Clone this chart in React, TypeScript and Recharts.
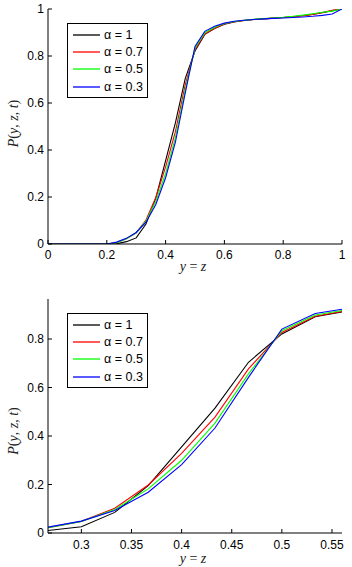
import React from 'react';
import { LineChart, Line, XAxis, YAxis, Legend } from 'recharts';

// y = z grid (steps of 1/30)
const xGrid = [0, 0.0333, 0.0667, 0.1, 0.1333, 0.1667, 0.2, 0.2333, 0.2667, 0.3, 0.3333, 0.3667, 0.4, 0.4333, 0.4667, 0.5,
  0.5333, 0.5667, 0.6, 0.6333, 0.6667, 0.7, 0.7333, 0.7667, 0.8, 0.8333, 0.8667, 0.9, 0.9333, 0.9667, 1];

const alpha1 = [0, 0, 0, 0, 0, 0, 0, 0.001, 0.01, 0.026, 0.085, 0.195, 0.355, 0.515, 0.704, 0.821,
  0.892, 0.917, 0.935, 0.945, 0.951, 0.955, 0.958, 0.961, 0.964, 0.967, 0.971, 0.977, 0.984, 0.993, 1];
const alpha07 = [0, 0, 0, 0, 0, 0, 0, 0.005, 0.022, 0.048, 0.102, 0.198, 0.328, 0.478, 0.677, 0.827,
  0.894, 0.918, 0.936, 0.946, 0.951, 0.955, 0.958, 0.961, 0.964, 0.967, 0.971, 0.977, 0.985, 0.995, 1];
const alpha05 = [0, 0, 0, 0, 0, 0, 0, 0.006, 0.022, 0.048, 0.097, 0.182, 0.3, 0.453, 0.656, 0.834,
  0.899, 0.922, 0.938, 0.947, 0.952, 0.956, 0.959, 0.962, 0.965, 0.969, 0.974, 0.98, 0.986, 0.991, 1];
const alpha03 = [0, 0, 0, 0, 0, 0, 0, 0.008, 0.024, 0.049, 0.093, 0.168, 0.282, 0.433, 0.642, 0.841,
  0.905, 0.927, 0.94, 0.948, 0.952, 0.955, 0.958, 0.96, 0.962, 0.964, 0.966, 0.969, 0.973, 0.979, 1];

const seriesNames = ['α = 1', 'α = 0.7', 'α = 0.5', 'α = 0.3'];
const seriesKeys = ['a1', 'a07', 'a05', 'a03'];
const seriesColors = ['#000000', '#ff0000', '#00ff00', '#0000ff'];

const topXTicks = [0, 0.2, 0.4, 0.6, 0.8, 1];
const topYTicks = [0, 0.2, 0.4, 0.6, 0.8, 1];
const zoomXTicks = [0.3, 0.35, 0.4, 0.45, 0.5, 0.55];
const zoomYTicks = [0, 0.2, 0.4, 0.6, 0.8];

const rows = xGrid.map((x, i) => ({
  x,
  a1: alpha1[i],
  a07: alpha07[i],
  a05: alpha05[i],
  a03: alpha03[i],
}));

const fmt = (v: number) => String(v);
const noTick = () => <g />;

// legend keeps the plotting order (recharts sorts its payload by name)
const LegendBox = () => (
  <div style={{ border: '1px solid #000', background: '#fff', width: 79, height: 71, paddingTop: 2, boxSizing: 'content-box' }}>
    {seriesNames.map((name, i) => (
      <div key={name} style={{ display: 'flex', alignItems: 'center', height: 17.3 }}>
        <svg width={36} height={6} style={{ display: 'block' }}>
          <line x1={5} y1={3} x2={32} y2={3} stroke={seriesColors[i]} strokeWidth={1.3} />
        </svg>
        <span style={{ fontSize: 12.5, color: '#000', lineHeight: '12px' }}>{name}</span>
      </div>
    ))}
  </div>
);

const yLabel = (props: any) => {
  const vb = props.viewBox || { x: 0, y: 0, width: 48, height: 0 };
  const cx = 13;
  const cy = vb.y + vb.height / 2 + (props.shift || 0);
  return (
    <text x={cx} y={cy} transform={`rotate(-90 ${cx} ${cy})`} textAnchor="middle" dominantBaseline="central"
      style={{ fontFamily: '"Liberation Serif", "DejaVu Serif", serif', fontSize: 14, fill: '#222' }}>
      <tspan fontStyle="italic">P</tspan>(<tspan fontStyle="italic">y</tspan>, <tspan fontStyle="italic">z</tspan>, <tspan fontStyle="italic">t</tspan>)
    </text>
  );
};

const xLabel = (dy: number) => (props: any) => {
  const vb = props.viewBox || { x: 48, y: 0, width: 294, height: 0 };
  const cx = vb.x + vb.width / 2 - 2;
  const cy = vb.y + dy;
  return (
    <text x={cx} y={cy} textAnchor="middle" dominantBaseline="central"
      style={{ fontFamily: '"Liberation Serif", "DejaVu Serif", serif', fontSize: 14, fill: '#222' }}>
      <tspan fontStyle="italic">y</tspan> = <tspan fontStyle="italic">z</tspan>
    </text>
  );
};

type PanelProps = {
  height: number;
  top: number;
  xDomain: [number, number];
  yDomain: [number, number];
  xTicks: number[];
  yTicks: number[];
  xAxisHeight: number;
  tickGap: number;
  labelDy: number;
  yShift: number;
  legendTop: number;
};

const Panel = (p: PanelProps) => {
  const axisProps = { stroke: '#000', tickSize: -4, tick: { fill: '#000', fontSize: 12 } };
  return (
    <LineChart width={352} height={p.height} data={rows} margin={{ top: p.top, right: 10, bottom: 0, left: 0 }}>
      <XAxis xAxisId="b" dataKey="x" type="number" domain={p.xDomain} ticks={p.xTicks} tickFormatter={fmt}
        allowDataOverflow interval={0} height={p.xAxisHeight} tickMargin={p.tickGap} {...axisProps}
        label={{ content: xLabel(p.labelDy) }} />
      <XAxis xAxisId="t" orientation="top" dataKey="x" type="number" domain={p.xDomain} ticks={p.xTicks}
        allowDataOverflow interval={0} height={0} stroke="#000" tickSize={-4} tick={noTick} />
      <YAxis yAxisId="l" type="number" domain={p.yDomain} ticks={p.yTicks} tickFormatter={fmt} allowDataOverflow
        interval={0} width={48} tickMargin={8} {...axisProps}
        label={{ content: (lp: any) => yLabel({ ...lp, shift: p.yShift }) }} />
      <YAxis yAxisId="r" orientation="right" type="number" domain={p.yDomain} ticks={p.yTicks} allowDataOverflow
        interval={0} width={0} stroke="#000" tickSize={-4} tick={noTick} />
      <Legend layout="horizontal" verticalAlign="middle" align="center" content={LegendBox}
        wrapperStyle={{ left: 67, top: p.legendTop, width: 'auto', height: 'auto' }} />
      {seriesKeys.map((k, i) => (
        <Line key={k} xAxisId="b" yAxisId="l" dataKey={k} name={seriesNames[i]} stroke={seriesColors[i]}
          strokeWidth={1.1} dot={false} type="linear" isAnimationActive={false} />
      ))}
    </LineChart>
  );
};

export default function App() {
  return (
    <div style={{ position: 'absolute', left: 0, top: 0, width: 352, height: 567, background: '#fff',
      fontFamily: '"Liberation Sans", Arial, sans-serif' }}>
      <Panel height={280} top={9} xDomain={[0, 1]} yDomain={[0, 1]} xTicks={topXTicks} yTicks={topYTicks}
        xAxisHeight={36} tickGap={10} labelDy={22} yShift={-3} legendTop={23} />
      <Panel height={287} top={19} xDomain={[0.2667, 0.56]} yDomain={[0, 0.965]} xTicks={zoomXTicks}
        yTicks={zoomYTicks} xAxisHeight={34} tickGap={11} labelDy={25} yShift={15} legendTop={33} />
    </div>
  );
}
